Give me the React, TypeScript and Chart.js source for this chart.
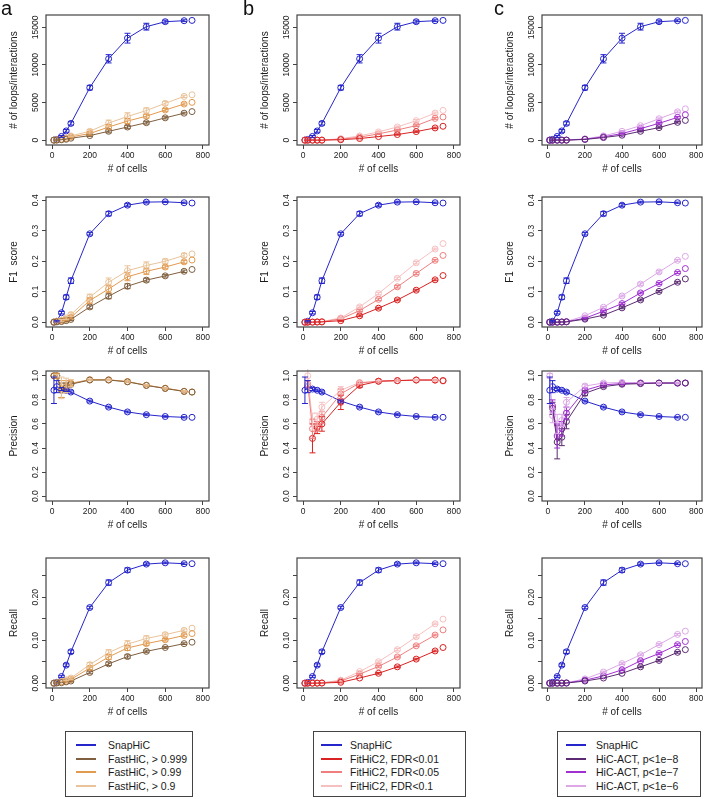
import React, { useEffect, useRef } from 'react';
import { Chart, registerables } from 'chart.js';
Chart.register(...registerables);

// ---------------- data ----------------
const CELLS = [10, 25, 50, 75, 100, 200, 300, 400, 500, 600, 700, 742];
const X_TICKS = [0, 200, 400, 600, 800];

const LOOPS_TICKS = [0, 5000, 10000, 15000];
const LOOPS_LABELS = ['0', '5000', '10000', '15000'];
const F1_TICKS = [0, 0.1, 0.2, 0.3, 0.4];
const F1_LABELS = ['0.0', '0.1', '0.2', '0.3', '0.4'];
const PREC_TICKS = [0, 0.2, 0.4, 0.6, 0.8, 1.0];
const PREC_LABELS = ['0.0', '0.2', '0.4', '0.6', '0.8', '1.0'];
const REC_TICKS = [0, 0.05, 0.1, 0.15, 0.2, 0.25];
const REC_LABELS = ['0.00', '', '0.10', '', '0.20', ''];

// SnapHiC
const SNAP_LOOPS = [20, 100, 500, 1230, 2230, 6980, 10820, 13560, 15090, 15750, 15880, 15920];
const SNAP_LOOPS_ERR = [20, 60, 120, 180, 220, 300, 550, 650, 450, 200, 120];
const SNAP_F1 = [0.0, 0.003, 0.031, 0.082, 0.136, 0.29, 0.356, 0.384, 0.394, 0.395, 0.392, 0.391];
const SNAP_F1_ERR = [0.001, 0.002, 0.004, 0.007, 0.009, 0.004, 0.007, 0.005, 0.003, 0.002, 0.002];
const SNAP_PREC = [0.88, 0.91, 0.89, 0.88, 0.865, 0.79, 0.74, 0.7, 0.677, 0.662, 0.655, 0.655];
const SNAP_PREC_ERR = [0.11, 0.05, 0.012, 0.01, 0.01, 0.008, 0.008, 0.008, 0.008, 0.006, 0.005];
const SNAP_REC = [0.0, 0.002, 0.0155, 0.042, 0.073, 0.176, 0.234, 0.263, 0.277, 0.28, 0.278, 0.278];
const SNAP_REC_ERR = [0.0005, 0.001, 0.002, 0.003, 0.004, 0.003, 0.006, 0.005, 0.003, 0.002, 0.002];

// FastHiC  (>0.999, >0.99, >0.9)
const FAST1_LOOPS = [5, 15, 60, 120, 260, 610, 1180, 1750, 2320, 2970, 3590, 3800];
const FAST2_LOOPS = [10, 30, 100, 200, 440, 875, 1750, 2540, 3190, 4020, 4800, 5030];
const FAST3_LOOPS = [20, 50, 150, 300, 570, 1180, 2270, 3150, 3940, 4900, 5820, 6035];
const FAST1_LOOPS_ERR = [5, 10, 20, 40, 60, 100, 200, 220, 180, 150, 120];
const FAST2_LOOPS_ERR = [10, 15, 30, 50, 80, 200, 300, 350, 250, 180, 150];
const FAST3_LOOPS_ERR = [10, 20, 40, 60, 100, 250, 400, 500, 350, 250, 150];
const FAST1_F1 = [0.0, 0.001, 0.002, 0.005, 0.009, 0.05, 0.085, 0.118, 0.138, 0.152, 0.167, 0.173];
const FAST2_F1 = [0.0, 0.002, 0.004, 0.009, 0.016, 0.071, 0.109, 0.149, 0.167, 0.181, 0.198, 0.204];
const FAST3_F1 = [0.001, 0.003, 0.006, 0.014, 0.025, 0.082, 0.131, 0.169, 0.186, 0.2, 0.219, 0.224];
const FAST1_F1_ERR = [0.001, 0.001, 0.002, 0.003, 0.004, 0.006, 0.008, 0.008, 0.006, 0.004, 0.004];
const FAST2_F1_ERR = [0.001, 0.002, 0.003, 0.004, 0.005, 0.009, 0.012, 0.013, 0.01, 0.006, 0.005];
const FAST3_F1_ERR = [0.001, 0.002, 0.003, 0.005, 0.006, 0.01, 0.014, 0.016, 0.012, 0.007, 0.006];
const FAST1_PREC = [1.0, 1.0, 0.88, 0.9, 0.93, 0.965, 0.965, 0.95, 0.92, 0.895, 0.87, 0.865];
const FAST2_PREC = [1.0, 1.0, 0.89, 0.91, 0.935, 0.967, 0.967, 0.952, 0.922, 0.897, 0.872, 0.866];
const FAST3_PREC = [1.0, 1.0, 0.9, 0.92, 0.94, 0.968, 0.966, 0.952, 0.921, 0.896, 0.871, 0.864];
const FAST1_PREC_ERR = [0, 0.02, 0.06, 0.04, 0.02, 0.005, 0.005, 0.005, 0.005, 0.005, 0.005];
const FAST2_PREC_ERR = [0, 0.02, 0.07, 0.05, 0.02, 0.005, 0.005, 0.005, 0.005, 0.005, 0.005];
const FAST3_PREC_ERR = [0, 0.01, 0.09, 0.06, 0.03, 0.005, 0.005, 0.005, 0.005, 0.005, 0.005];
const FAST1_REC = [0.0, 0.0005, 0.001, 0.003, 0.005, 0.025, 0.045, 0.062, 0.074, 0.083, 0.092, 0.0953];
const FAST2_REC = [0.0, 0.001, 0.003, 0.005, 0.009, 0.035, 0.061, 0.082, 0.092, 0.101, 0.111, 0.1155];
const FAST3_REC = [0.0, 0.001, 0.004, 0.008, 0.012, 0.043, 0.071, 0.091, 0.104, 0.113, 0.123, 0.128];
const FAST1_REC_ERR = [0, 0.0005, 0.001, 0.001, 0.002, 0.003, 0.004, 0.004, 0.003, 0.002, 0.002];
const FAST2_REC_ERR = [0, 0.0005, 0.001, 0.002, 0.002, 0.004, 0.006, 0.006, 0.004, 0.003, 0.003];
const FAST3_REC_ERR = [0, 0.001, 0.001, 0.002, 0.003, 0.005, 0.007, 0.008, 0.006, 0.004, 0.003];

// FitHiC2 (FDR<0.01, <0.05, <0.1)
const FIT1_LOOPS = [0, 1, 2, 3, 5, 60, 220, 480, 750, 1140, 1630, 1850];
const FIT2_LOOPS = [0, 2, 4, 6, 10, 130, 400, 840, 1360, 1940, 2900, 3080];
const FIT3_LOOPS = [1, 3, 6, 10, 20, 200, 570, 1100, 1760, 2600, 3600, 3960];
const FIT1_LOOPS_ERR = [0, 1, 1, 2, 3, 20, 40, 60, 80, 100, 100];
const FIT2_LOOPS_ERR = [0, 1, 2, 3, 5, 30, 50, 80, 100, 120, 120];
const FIT3_LOOPS_ERR = [1, 2, 3, 4, 6, 40, 60, 90, 120, 140, 140];
const FIT1_F1 = [0, 0, 0, 0.0005, 0.001, 0.005, 0.021, 0.046, 0.073, 0.105, 0.139, 0.153];
const FIT2_F1 = [0, 0, 0.0005, 0.001, 0.001, 0.011, 0.038, 0.075, 0.116, 0.16, 0.203, 0.219];
const FIT3_F1 = [0, 0, 0.001, 0.001, 0.002, 0.014, 0.05, 0.094, 0.144, 0.195, 0.24, 0.258];
const FIT1_F1_ERR = [0, 0, 0, 0, 0.001, 0.002, 0.003, 0.003, 0.003, 0.003, 0.003];
const FIT2_F1_ERR = [0, 0, 0, 0, 0.001, 0.002, 0.003, 0.004, 0.004, 0.004, 0.003];
const FIT3_F1_ERR = [0, 0, 0, 0, 0.001, 0.002, 0.004, 0.004, 0.004, 0.004, 0.003];
const FIT1_PREC = [null, null, 0.48, 0.57, 0.6, 0.78, 0.92, 0.955, 0.96, 0.965, 0.965, 0.96];
const FIT2_PREC = [null, 0.93, 0.56, 0.58, 0.655, 0.85, 0.94, 0.955, 0.96, 0.965, 0.965, 0.96];
const FIT3_PREC = [null, 1.0, 0.62, 0.64, 0.74, 0.88, 0.945, 0.955, 0.96, 0.965, 0.962, 0.955];
const FIT1_PREC_ERR = [0, 0, 0.12, 0.05, 0.06, 0.06, 0.015, 0.008, 0.005, 0.005, 0.005];
const FIT2_PREC_ERR = [0, 0.03, 0.08, 0.04, 0.05, 0.04, 0.01, 0.006, 0.005, 0.005, 0.005];
const FIT3_PREC_ERR = [0, 0.07, 0.07, 0.05, 0.04, 0.03, 0.01, 0.006, 0.005, 0.005, 0.005];
const FIT1_REC = [0, 0, 0, 0, 0.0003, 0.002, 0.012, 0.023, 0.038, 0.056, 0.075, 0.083];
const FIT2_REC = [0, 0, 0, 0.0003, 0.0005, 0.005, 0.021, 0.039, 0.061, 0.087, 0.112, 0.124];
const FIT3_REC = [0, 0, 0.0003, 0.0005, 0.001, 0.007, 0.027, 0.05, 0.078, 0.108, 0.138, 0.149];
const FIT1_REC_ERR = [0, 0, 0, 0, 0, 0.001, 0.001, 0.002, 0.002, 0.002, 0.002];
const FIT2_REC_ERR = [0, 0, 0, 0, 0, 0.001, 0.002, 0.002, 0.002, 0.002, 0.002];
const FIT3_REC_ERR = [0, 0, 0, 0, 0, 0.001, 0.002, 0.002, 0.003, 0.003, 0.002];

// HiC-ACT (p<1e-8, p<1e-7, p<1e-6)
const ACT1_LOOPS = [0, 1, 3, 5, 10, 100, 350, 660, 1180, 1670, 2370, 2630];
const ACT2_LOOPS = [1, 2, 4, 7, 15, 130, 440, 880, 1540, 2240, 3030, 3380];
const ACT3_LOOPS = [1, 3, 5, 10, 20, 175, 570, 1180, 1930, 2850, 3770, 4170];
const ACT1_LOOPS_ERR = [0, 1, 2, 3, 5, 20, 40, 60, 80, 90, 100];
const ACT2_LOOPS_ERR = [1, 1, 2, 3, 5, 25, 50, 70, 90, 100, 110];
const ACT3_LOOPS_ERR = [1, 2, 3, 4, 6, 30, 60, 80, 100, 110, 120];
const ACT1_F1 = [0, 0, 0, 0.0005, 0.001, 0.01, 0.023, 0.047, 0.073, 0.101, 0.131, 0.142];
const ACT2_F1 = [0, 0, 0, 0.0007, 0.0015, 0.013, 0.036, 0.061, 0.096, 0.127, 0.163, 0.176];
const ACT3_F1 = [0, 0, 0.0005, 0.001, 0.002, 0.021, 0.049, 0.086, 0.125, 0.165, 0.203, 0.216];
const ACT1_F1_ERR = [0, 0, 0, 0, 0.001, 0.002, 0.002, 0.003, 0.003, 0.003, 0.003];
const ACT2_F1_ERR = [0, 0, 0, 0, 0.001, 0.002, 0.003, 0.003, 0.003, 0.003, 0.003];
const ACT3_F1_ERR = [0, 0, 0, 0, 0.001, 0.002, 0.003, 0.003, 0.004, 0.004, 0.003];
const ACT1_PREC = [null, 0.73, 0.45, 0.49, 0.62, 0.855, 0.91, 0.93, 0.935, 0.94, 0.94, 0.94];
const ACT2_PREC = [null, 0.75, 0.5, 0.56, 0.69, 0.88, 0.925, 0.935, 0.94, 0.94, 0.94, 0.94];
const ACT3_PREC = [1.0, 0.67, 0.6, 0.63, 0.78, 0.915, 0.94, 0.945, 0.94, 0.94, 0.94, 0.94];
const ACT1_PREC_ERR = [0, 0.05, 0.14, 0.07, 0.06, 0.02, 0.01, 0.006, 0.005, 0.005, 0.005];
const ACT2_PREC_ERR = [0, 0.05, 0.1, 0.06, 0.05, 0.02, 0.01, 0.006, 0.005, 0.005, 0.005];
const ACT3_PREC_ERR = [0.02, 0.06, 0.08, 0.05, 0.04, 0.015, 0.01, 0.006, 0.005, 0.005, 0.005];
const ACT1_REC = [0, 0, 0, 0, 0.0003, 0.005, 0.012, 0.023, 0.038, 0.053, 0.0718, 0.078];
const ACT2_REC = [0, 0, 0, 0.0002, 0.0005, 0.007, 0.017, 0.031, 0.052, 0.069, 0.0896, 0.097];
const ACT3_REC = [0, 0, 0.0002, 0.0004, 0.001, 0.01, 0.026, 0.0455, 0.066, 0.09, 0.1135, 0.121];
const ACT1_REC_ERR = [0, 0, 0, 0, 0, 0.001, 0.001, 0.001, 0.002, 0.002, 0.002];
const ACT2_REC_ERR = [0, 0, 0, 0, 0, 0.001, 0.001, 0.002, 0.002, 0.002, 0.002];
const ACT3_REC_ERR = [0, 0, 0, 0, 0, 0.001, 0.002, 0.002, 0.002, 0.002, 0.002];

// ---------------- style ----------------
const FONT = '"Liberation Sans", Arial, Helvetica, sans-serif';
const TEXT = '#1a1a1a';
const AXIS = '#444';
const C_SNAP = '#2525cc';
const C_FAST = ['#7f5f3f', '#e29a50', '#e9c39a'];
const C_FIT = ['#d92222', '#ef7f7f', '#f6c0c0'];
const C_ACT = ['#5b2a72', '#a030d0', '#dca8e6'];

const COL_LEFT = [46, 297, 542];
const ROW_TOP = [15, 197, 371, 558];
const BOX_W = 163;
const BOX_H = 130;
const Y_AXIS_W = 40;
const X_AXIS_H = 34;
const TOP_PAD = 8;
const RIGHT_PAD = [12, 12, 1];

const METRICS = [
  { title: '# of loops/interactions', min: -640, max: 16640, ticks: LOOPS_TICKS, labels: LOOPS_LABELS },
  { title: 'F1  score', min: -0.0158, max: 0.4108, ticks: F1_TICKS, labels: F1_LABELS },
  { title: 'Precision', min: -0.04, max: 1.04, ticks: PREC_TICKS, labels: PREC_LABELS },
  { title: 'Recall', min: -0.0112, max: 0.2912, ticks: REC_TICKS, labels: REC_LABELS },
];

type Series = { color: string; values: (number | null)[]; errs: number[] };

const SNAP_BY_METRIC = [
  [SNAP_LOOPS, SNAP_LOOPS_ERR],
  [SNAP_F1, SNAP_F1_ERR],
  [SNAP_PREC, SNAP_PREC_ERR],
  [SNAP_REC, SNAP_REC_ERR],
];
const FAST_BY_METRIC = [
  [[FAST1_LOOPS, FAST1_LOOPS_ERR], [FAST2_LOOPS, FAST2_LOOPS_ERR], [FAST3_LOOPS, FAST3_LOOPS_ERR]],
  [[FAST1_F1, FAST1_F1_ERR], [FAST2_F1, FAST2_F1_ERR], [FAST3_F1, FAST3_F1_ERR]],
  [[FAST1_PREC, FAST1_PREC_ERR], [FAST2_PREC, FAST2_PREC_ERR], [FAST3_PREC, FAST3_PREC_ERR]],
  [[FAST1_REC, FAST1_REC_ERR], [FAST2_REC, FAST2_REC_ERR], [FAST3_REC, FAST3_REC_ERR]],
];
const FIT_BY_METRIC = [
  [[FIT1_LOOPS, FIT1_LOOPS_ERR], [FIT2_LOOPS, FIT2_LOOPS_ERR], [FIT3_LOOPS, FIT3_LOOPS_ERR]],
  [[FIT1_F1, FIT1_F1_ERR], [FIT2_F1, FIT2_F1_ERR], [FIT3_F1, FIT3_F1_ERR]],
  [[FIT1_PREC, FIT1_PREC_ERR], [FIT2_PREC, FIT2_PREC_ERR], [FIT3_PREC, FIT3_PREC_ERR]],
  [[FIT1_REC, FIT1_REC_ERR], [FIT2_REC, FIT2_REC_ERR], [FIT3_REC, FIT3_REC_ERR]],
];
const ACT_BY_METRIC = [
  [[ACT1_LOOPS, ACT1_LOOPS_ERR], [ACT2_LOOPS, ACT2_LOOPS_ERR], [ACT3_LOOPS, ACT3_LOOPS_ERR]],
  [[ACT1_F1, ACT1_F1_ERR], [ACT2_F1, ACT2_F1_ERR], [ACT3_F1, ACT3_F1_ERR]],
  [[ACT1_PREC, ACT1_PREC_ERR], [ACT2_PREC, ACT2_PREC_ERR], [ACT3_PREC, ACT3_PREC_ERR]],
  [[ACT1_REC, ACT1_REC_ERR], [ACT2_REC, ACT2_REC_ERR], [ACT3_REC, ACT3_REC_ERR]],
];
const METHODS = [
  { data: FAST_BY_METRIC, colors: C_FAST },
  { data: FIT_BY_METRIC, colors: C_FIT },
  { data: ACT_BY_METRIC, colors: C_ACT },
];

const LEGENDS = [
  { labels: ['SnapHiC', 'FastHiC, > 0.999', 'FastHiC, > 0.99', 'FastHiC, > 0.9'], colors: [C_SNAP, ...C_FAST] },
  { labels: ['SnapHiC', 'FitHiC2, FDR<0.01', 'FitHiC2, FDR<0.05', 'FitHiC2, FDR<0.1'], colors: [C_SNAP, ...C_FIT] },
  { labels: ['SnapHiC', 'HiC-ACT, p<1e\u22128', 'HiC-ACT, p<1e\u22127', 'HiC-ACT, p<1e\u22126'], colors: [C_SNAP, ...C_ACT] },
];
const LEGEND_BOX = [
  { left: 65, width: 128, lineX: 10, lineW: 20, textX: 42 },
  { left: 313, width: 153, lineX: 7, lineW: 21, textX: 36 },
  { left: 557, width: 144, lineX: 8, lineW: 20, textX: 38 },
];
const LEGEND_TOP = 731;
const LEGEND_H = 66;
const LETTERS = ['a', 'b', 'c'];
const LETTER_X = [1, 243, 494];

// ---------------- plugins ----------------
const errorBarPlugin = {
  id: 'errorBars',
  afterDatasetsDraw(chart: any) {
    const ctx = chart.ctx;
    const ys = chart.scales.y;
    const area = chart.chartArea;
    ctx.save();
    ctx.beginPath();
    ctx.rect(area.left, area.top - 2, area.right - area.left, area.bottom - area.top + 4);
    ctx.clip();
    chart.data.datasets.forEach((ds: any, di: number) => {
      if (!ds.errs) return;
      const meta = chart.getDatasetMeta(di);
      ctx.strokeStyle = ds.borderColor;
      ctx.lineWidth = 1;
      ds.data.forEach((p: any, i: number) => {
        const e = ds.errs[i];
        if (p.y == null || !e) return;
        const el = meta.data[i];
        if (!el) return;
        const x = el.x;
        const y1 = ys.getPixelForValue(p.y + e);
        const y2 = ys.getPixelForValue(p.y - e);
        if (Math.abs(y2 - y1) < 1) return;
        ctx.beginPath();
        ctx.moveTo(x, y1);
        ctx.lineTo(x, y2);
        ctx.moveTo(x - 3, y1);
        ctx.lineTo(x + 3, y1);
        ctx.moveTo(x - 3, y2);
        ctx.lineTo(x + 3, y2);
        ctx.stroke();
      });
    });
    ctx.restore();
  },
};

const boxPlugin = {
  id: 'rbox',
  afterDraw(chart: any) {
    const { ctx, chartArea: a } = chart;
    ctx.save();
    ctx.strokeStyle = AXIS;
    ctx.lineWidth = 1.2;
    ctx.strokeRect(a.left, a.top, a.right - a.left, a.bottom - a.top);
    // y tick labels, rotated like R's las=0
    const ys = chart.scales.y;
    ctx.fillStyle = TEXT;
    ctx.font = `8.5px ${FONT}`;
    ctx.textAlign = 'center';
    ctx.textBaseline = 'middle';
    ys.ticks.forEach((t: any, i: number) => {
      if (!t.label) return;
      const py = ys.getPixelForTick(i);
      ctx.save();
      ctx.translate(ys.right - 10, py);
      ctx.rotate(-Math.PI / 2);
      ctx.fillText(t.label, 0, 0);
      ctx.restore();
    });
    ctx.restore();
  },
};

// ---------------- components ----------------
function pointStyle(color: string) {
  return {
    borderColor: color,
    borderWidth: 1,
    pointRadius: 3,
    pointHoverRadius: 3,
    pointBorderColor: color,
    pointBackgroundColor: 'rgba(0,0,0,0)',
    pointBorderWidth: 1,
  };
}

function buildDatasets(series: Series[]) {
  const n = CELLS.length - 1;
  const out: any[] = [];
  series.forEach((s) => {
    out.push({
      type: 'line',
      data: CELLS.slice(0, n).map((x, i) => ({ x, y: s.values[i] })),
      errs: s.errs,
      fill: false,
      tension: 0,
      spanGaps: false,
      clip: false,
      ...pointStyle(s.color),
    });
    out.push({
      type: 'line',
      data: [{ x: CELLS[n], y: s.values[n] }],
      showLine: false,
      clip: false,
      ...pointStyle(s.color),
    });
  });
  return out;
}

function Panel({ col, row }: { col: number; row: number }) {
  const ref = useRef<HTMLCanvasElement | null>(null);
  const metric = METRICS[row];
  const w = Y_AXIS_W + BOX_W + RIGHT_PAD[col];
  const h = TOP_PAD + BOX_H + X_AXIS_H;
  const left = COL_LEFT[col] - Y_AXIS_W;
  const top = ROW_TOP[row] - TOP_PAD;

  useEffect(() => {
    const snap = SNAP_BY_METRIC[row];
    const m = METHODS[col];
    const series: Series[] = [
      ...m.data[row].map((d: any, k: number) => ({ color: m.colors[k], values: d[0], errs: d[1] })),
      { color: C_SNAP, values: snap[0] as number[], errs: snap[1] as number[] },
    ];
    const chart = new Chart(ref.current as HTMLCanvasElement, {
      type: 'line',
      data: { datasets: buildDatasets(series) },
      options: {
        responsive: false,
        maintainAspectRatio: false,
        animation: false,
        events: [],
        layout: { padding: { left: 0, right: RIGHT_PAD[col], top: TOP_PAD, bottom: 0 } },
        plugins: { legend: { display: false }, tooltip: { enabled: false } },
        scales: {
          x: {
            type: 'linear',
            position: 'bottom',
            min: -32,
            max: 832,
            afterBuildTicks: (s: any) => {
              s.ticks = X_TICKS.map((v) => ({ value: v }));
            },
            afterFit: (s: any) => {
              s.height = X_AXIS_H;
              s.paddingLeft = 0;
              s.paddingRight = 0;
            },
            grid: { drawOnChartArea: false, drawTicks: true, tickLength: 4, color: AXIS, tickColor: AXIS, lineWidth: 1 },
            border: { display: false },
            ticks: {
              autoSkip: false,
              maxRotation: 0,
              minRotation: 0,
              padding: 2,
              color: TEXT,
              font: { family: FONT, size: 8.5 },
              callback: (v: any) => String(v),
            },
            title: {
              display: true,
              text: '# of cells',
              color: TEXT,
              font: { family: FONT, size: 10 },
              padding: { top: 0, bottom: 4 },
            },
          },
          y: {
            type: 'linear',
            position: 'left',
            min: metric.min,
            max: metric.max,
            afterBuildTicks: (s: any) => {
              s.ticks = metric.ticks.map((v) => ({ value: v }));
            },
            afterFit: (s: any) => {
              s.width = Y_AXIS_W;
              s.paddingTop = 0;
              s.paddingBottom = 0;
            },
            grid: { drawOnChartArea: false, drawTicks: true, tickLength: 4, color: AXIS, tickColor: AXIS, lineWidth: 1 },
            border: { display: false },
            ticks: {
              display: false,
              callback: (v: any) => {
                const i = metric.ticks.findIndex((t) => Math.abs(t - v) < 1e-9);
                return i >= 0 ? metric.labels[i] : '';
              },
            },
            title: {
              display: true,
              text: metric.title,
              color: TEXT,
              font: { family: FONT, size: 10 },
              padding: { top: 2, bottom: 0 },
            },
          },
        },
      } as any,
      plugins: [errorBarPlugin, boxPlugin],
    });
    return () => chart.destroy();
  }, []);

  return (
    <canvas
      ref={ref}
      width={w}
      height={h}
      style={{ position: 'absolute', left, top, width: w, height: h }}
    />
  );
}

function Legend({ idx }: { idx: number }) {
  const lg = LEGENDS[idx];
  const b = LEGEND_BOX[idx];
  return (
    <div
      style={{
        position: 'absolute',
        left: b.left,
        top: LEGEND_TOP,
        width: b.width,
        height: LEGEND_H,
        boxSizing: 'border-box',
        border: `1px solid ${AXIS}`,
        fontFamily: FONT,
        fontSize: 10.5,
        color: TEXT,
      }}
    >
      {lg.labels.map((t, i) => (
        <div key={i} style={{ position: 'absolute', left: 0, top: 6 + i * 13.7, height: 14, width: '100%' }}>
          <div
            style={{
              position: 'absolute',
              left: b.lineX,
              top: 6,
              width: b.lineW,
              height: 2,
              background: lg.colors[i],
            }}
          />
          <div style={{ position: 'absolute', left: b.textX, top: 0, lineHeight: '14px', whiteSpace: 'nowrap' }}>{t}</div>
        </div>
      ))}
    </div>
  );
}

export default function App() {
  const panels: JSX.Element[] = [];
  for (let c = 0; c < 3; c++) {
    for (let r = 0; r < 4; r++) panels.push(<Panel key={`${c}-${r}`} col={c} row={r} />);
  }
  return (
    <div style={{ position: 'absolute', left: 0, top: 0, width: 706, height: 799, background: '#fff', overflow: 'hidden' }}>
      {panels}
      {LETTERS.map((l, i) => (
        <div
          key={l}
          style={{ position: 'absolute', left: LETTER_X[i], top: -4, fontFamily: FONT, fontSize: 20, color: '#111', lineHeight: '24px' }}
        >
          {l}
        </div>
      ))}
      {[0, 1, 2].map((i) => (
        <Legend key={i} idx={i} />
      ))}
    </div>
  );
}
